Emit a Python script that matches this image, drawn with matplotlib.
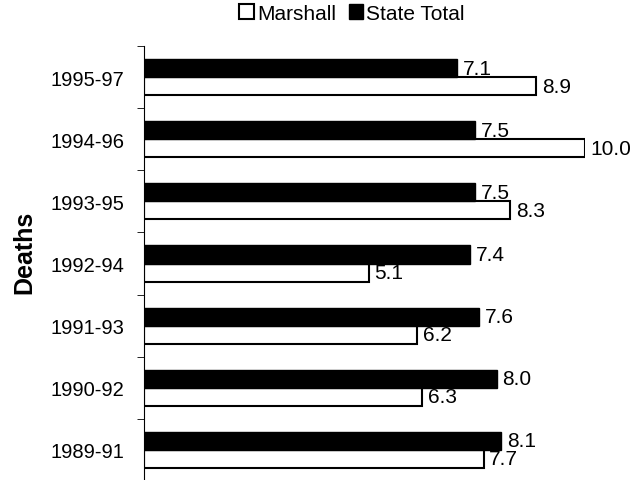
import matplotlib.pyplot as plt
import numpy as np

plt.rcParams['font.family'] = ['Liberation Sans', 'DejaVu Sans']

periods = ['1989-91', '1990-92', '1991-93', '1992-94', '1993-95', '1994-96', '1995-97']
marshall = [7.7, 6.3, 6.2, 5.1, 8.3, 10.0, 8.9]
state_total = [8.1, 8.0, 7.6, 7.4, 7.5, 7.5, 7.1]

fig = plt.figure(figsize=(6.41, 4.81), dpi=100)
ax = fig.add_axes([144 / 641, -1 / 481, 441 / 641, 435 / 481])

y = np.arange(len(periods))
h = 0.29
ax.barh(y - h / 2, marshall, height=h, color='white', edgecolor='black', linewidth=1.5, label='Marshall')
ax.barh(y + h / 2, state_total, height=h, color='black', edgecolor='black', linewidth=1, label='State Total')

for i in range(len(periods)):
    ax.text(marshall[i] + 0.13, y[i] - h / 2, f'{marshall[i]:.1f}', va='center', ha='left', fontsize=15, clip_on=False)
    ax.text(state_total[i] + 0.13, y[i] + h / 2, f'{state_total[i]:.1f}', va='center', ha='left', fontsize=15, clip_on=False)

ax.set_xlim(0, 10)
ax.set_ylim(-0.5, len(periods) - 0.5)
ax.set_yticks(y)
ax.set_yticklabels(periods, fontsize=14.5)
ax.set_yticks(np.arange(-0.5, len(periods), 1), minor=True)
ax.tick_params(axis='y', which='major', length=0, pad=14)
ax.tick_params(axis='y', which='minor', length=5, direction='out')
ax.set_xticks([])
for s in ['top', 'right', 'bottom']:
    ax.spines[s].set_visible(False)
ax.spines['left'].set_linewidth(0.8)

fig.text(24 / 641, 1 - 252 / 481, 'Deaths', rotation=90, ha='center', va='center', fontsize=18, fontweight='bold')

fig.legend(loc='center', bbox_to_anchor=(352 / 641, 1 - 14 / 481), ncol=2, frameon=False, fontsize=15,
           handlelength=0.7, handleheight=0.7, handletextpad=0.15, columnspacing=0.6, borderpad=0)

fig.savefig('out.png', dpi=100)
